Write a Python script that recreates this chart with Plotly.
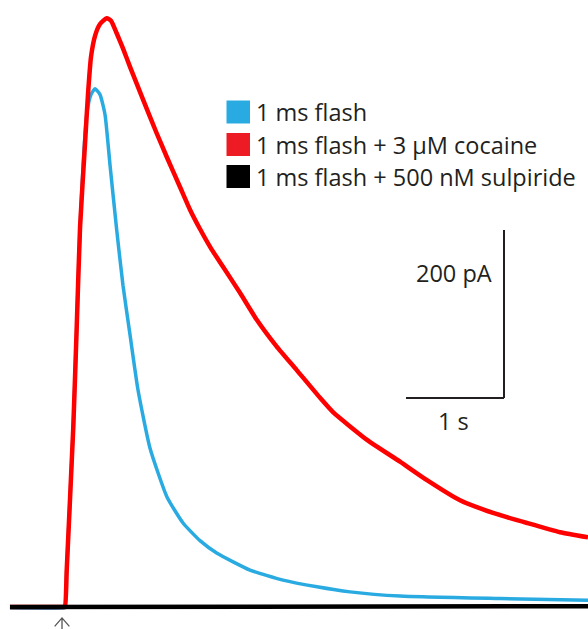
import plotly.graph_objects as go

# ---------------- data (time in s, current in pA) ----------------
t_red = [-0.531, -0.224, 0.020, 0.031, 0.048, 0.115, 0.150, 0.184, 0.235, 0.265, 0.296,
         0.337, 0.388, 0.456, 0.500, 0.558, 0.622, 0.694, 0.827, 0.966, 1.068, 1.204,
         1.306, 1.408, 1.520, 1.643, 1.816, 1.987, 2.191, 2.395, 2.633, 2.765, 3.112, 3.449,
         3.724, 4.061, 4.398, 4.745, 5.082, 5.367]
i_red = [0, 0, 0, 0, 44, 214, 333, 452, 552, 610, 655,
         680, 694, 701, 698, 683, 665, 643, 604, 564, 536, 500,
         473, 450, 427, 405, 374, 342, 310, 282, 249, 232, 199, 173,
         151, 127, 112, 100, 89, 83]

t_blue = [-0.531, 0.020, 0.031, 0.048, 0.115, 0.150, 0.184, 0.224, 0.255, 0.296, 0.337,
          0.388, 0.439, 0.490, 0.558, 0.622, 0.694, 0.776, 0.898, 1.071, 1.235, 1.408,
          1.582, 1.918, 2.255, 2.602, 2.939, 3.449, 4.469, 5.367]
i_blue = [-1, -1, 0, 44, 214, 333, 452, 544, 589, 610, 617,
          610, 586, 526, 449, 383, 324, 258, 189, 131, 100, 79,
          64, 44, 32, 24, 18, 13, 10, 8]

t_black = [-0.531, 0.0, 0.5, 1.0, 1.5, 2.0, 2.5, 3.0, 3.5, 4.0, 4.5, 5.0, 5.367]
i_black = [0, 0, 1, 1, 0, 1, 0, 1, 0, 1, 1, 0, 1]

legend_labels = ["1 ms flash", "1 ms flash + 3 \u00b5M cocaine", "1 ms flash + 500 nM sulpiride"]
legend_colors = ["#29ABE2", "#ED1C24", "#000000"]
trace_colors = ["#29ABE2", "#FF0000", "#000000"]

scale_time = 1.0      # s
scale_current = 200   # pA
scale_labels = ["1 s", "200 pA"]

# ---------------- figure ----------------
W, H = 588, 629
fig = go.Figure()
for t, i, c, w, shp in [(t_blue, i_blue, trace_colors[0], 3.5, "spline"),
                        (t_red, i_red, trace_colors[1], 4.5, "spline"),
                        (t_black, i_black, trace_colors[2], 4.5, "linear")]:
    fig.add_trace(go.Scatter(x=t, y=i, mode="lines",
                             line=dict(color=c, width=w, shape=shp, smoothing=0.5),
                             showlegend=False, hoverinfo="skip"))

ink = "#231F20"
FONT = dict(size=23.5, color=ink, family="Open Sans")
# scale bar (data coordinates)
sx0, sy0 = 3.51, 248.8
fig.add_shape(type="line", x0=sx0, x1=sx0 + scale_time, y0=sy0, y1=sy0,
              line=dict(color=ink, width=2))
fig.add_shape(type="line", x0=sx0 + scale_time, x1=sx0 + scale_time, y0=sy0, y1=sy0 + scale_current,
              line=dict(color=ink, width=2))
fig.add_annotation(x=sx0 + scale_time / 2 - 0.015, y=sy0 - 27, text=scale_labels[0], showarrow=False,
                   xanchor="center", yanchor="middle", font=FONT)
fig.add_annotation(x=sx0 + scale_time / 2 - 0.01, y=sy0 + 149, text=scale_labels[1], showarrow=False,
                   xanchor="center", yanchor="middle", font=FONT)

# stimulus arrow at t = 0
fig.add_shape(type="path", path="M 0,-13 L 0,-40 M -0.075,-23 L 0,-13 L 0.075,-23",
              line=dict(color="#555555", width=1.3))

# legend (paper coordinates, margins are zero)
def px(x):
    return x / W

def py(y):
    return 1 - y / H

row_y = [112, 144.5, 176.5]
for lab, col, yc in zip(legend_labels, legend_colors, row_y):
    fig.add_shape(type="rect", xref="paper", yref="paper",
                  x0=px(226.5), x1=px(250), y0=py(yc - 11.5), y1=py(yc + 11.5),
                  fillcolor=col, line=dict(width=0))
    fig.add_annotation(xref="paper", yref="paper", x=px(254), y=py(yc), text=lab,
                       showarrow=False, xanchor="left", yanchor="middle", font=FONT)

fig.update_layout(
    width=W, height=H, margin=dict(l=0, r=0, t=0, b=0),
    paper_bgcolor="white", plot_bgcolor="white",
    xaxis=dict(range=[-0.6327, 5.367], visible=False, fixedrange=True),
    yaxis=dict(range=[-26.19, 722.6], visible=False, fixedrange=True),
)
fig.write_html("out.html", config={"displayModeBar": False},
               post_script="document.body.style.margin='0';document.body.style.overflow='hidden';")
